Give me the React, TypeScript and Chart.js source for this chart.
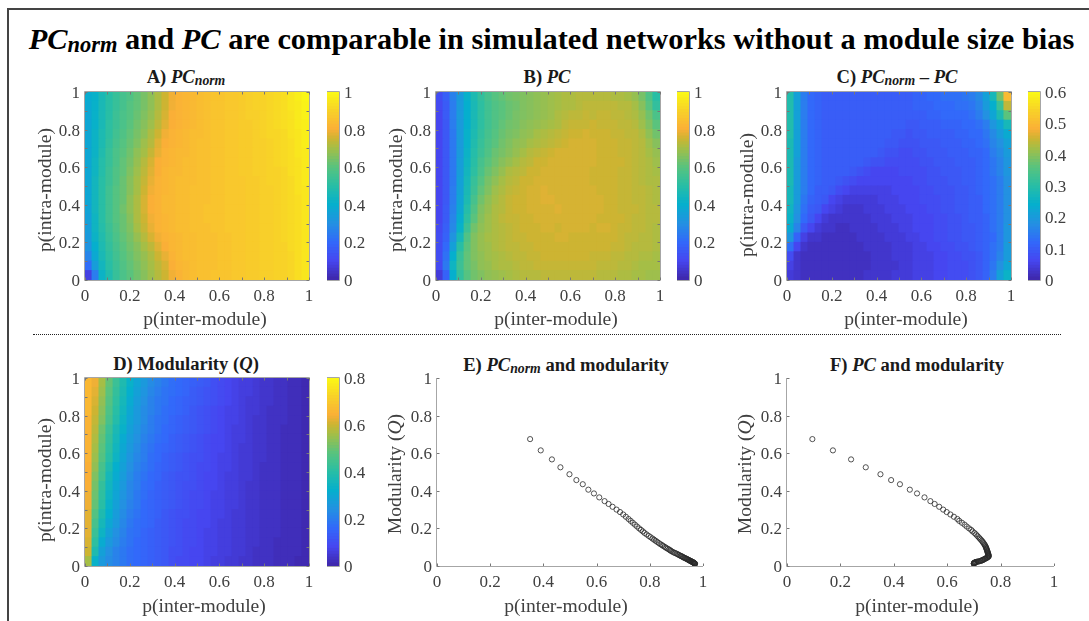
import React, { useEffect, useRef } from 'react';
import Chart from 'chart.js/auto';

// Bin centres of the coarse grid
const INTER_MODULE = [0.016,0.047,0.078,0.109,0.141,0.172,0.203,0.234,0.266,0.297,0.328,0.359,0.391,0.422,0.453,0.484,0.516,0.547,0.578,0.609,0.641,0.672,0.703,0.734,0.766,0.797,0.828,0.859,0.891,0.922,0.953,0.984];
const ROW_SPAN = 0.05;

const TICKS = [0, 0.2, 0.4, 0.6, 0.8, 1];
const MINOR_TICKS = [0, 0.1, 0.2, 0.3, 0.4, 0.5, 0.6, 0.7, 0.8, 0.9, 1];

// Values x100, rows from p(intra)=0.975 (top) to 0.025 (bottom)
const PC_NORM = [
[39,41,46,50,53,56,58,61,64,67,71,75,79,81,82,83,84,85,86,86,87,87,88,89,90,90,91,92,93,95,97,99],
[38,41,46,50,53,56,59,61,64,67,71,75,79,81,82,83,84,85,86,86,87,87,88,89,90,90,91,92,93,95,96,98],
[37,41,46,50,54,57,59,62,65,68,72,76,80,81,82,83,84,85,86,86,87,87,88,89,89,90,91,92,93,94,96,98],
[37,41,46,51,54,57,60,63,66,69,73,77,80,81,82,83,84,85,86,86,87,87,88,88,89,90,91,92,93,94,96,97],
[37,42,47,51,55,58,61,64,67,71,75,79,81,82,83,84,84,85,86,86,87,87,88,88,89,90,91,91,92,94,95,97],
[37,42,47,52,56,59,62,65,69,72,77,80,81,82,83,84,85,85,86,86,87,87,88,88,89,89,90,91,92,93,95,97],
[37,42,48,53,57,60,63,67,70,74,78,81,82,83,83,84,85,85,86,86,87,87,88,88,89,89,90,91,92,93,95,96],
[37,43,49,53,57,61,64,68,72,76,80,81,82,83,84,84,85,85,86,86,87,87,88,88,89,89,90,91,92,93,94,96],
[37,43,49,54,58,61,65,69,73,77,80,82,83,83,84,84,85,85,86,86,87,87,88,88,89,89,90,90,91,93,94,96],
[37,44,50,54,58,62,66,70,74,78,81,82,83,84,84,84,85,85,86,86,87,87,87,88,88,89,90,90,91,92,94,96],
[37,44,50,55,59,62,66,70,75,79,81,82,83,84,84,85,85,85,86,86,87,87,87,88,88,89,89,90,91,92,94,95],
[37,44,50,55,59,62,67,71,76,80,81,83,83,84,84,85,85,85,86,86,87,87,87,88,88,89,89,90,91,92,93,95],
[36,44,50,55,59,63,67,71,76,80,81,83,83,84,84,85,85,86,86,86,87,87,87,88,88,89,89,90,91,92,93,95],
[35,43,50,55,59,62,66,71,75,79,81,82,83,84,84,85,85,86,86,86,87,87,87,88,88,89,89,90,91,92,93,95],
[34,43,49,54,58,62,65,70,74,78,81,82,83,84,84,85,85,85,86,86,87,87,87,88,88,89,89,90,91,92,93,95],
[33,42,48,53,57,61,64,68,72,76,79,81,82,83,84,84,85,85,85,86,86,87,87,88,88,89,89,90,91,92,93,95],
[31,40,47,52,56,60,63,66,70,73,77,80,82,83,84,84,85,85,85,86,86,87,87,88,88,89,89,90,90,92,93,95],
[27,38,46,51,55,59,62,65,68,71,75,78,81,83,84,84,85,85,85,86,86,87,87,88,88,89,89,90,90,91,93,95],
[21,34,44,50,54,58,61,64,67,70,73,76,80,82,83,84,85,85,85,86,86,87,87,88,88,89,89,90,90,91,93,95],
[8,25,42,48,53,57,60,63,66,69,72,75,79,81,83,84,85,85,86,86,86,87,87,88,88,89,89,90,90,91,93,95],
];

const PC_RAW = [
[12,17,26,33,41,47,52,56,59,61,63,64,65,66,67,68,69,70,71,71,72,72,72,72,72,71,71,70,68,64,58,50],
[11,16,25,33,40,46,51,55,58,60,62,63,65,66,67,68,69,70,71,71,72,73,73,73,73,73,72,72,70,66,60,52],
[10,16,25,33,40,46,51,55,58,60,62,64,65,66,67,68,69,71,72,73,73,74,73,74,74,73,73,72,71,68,63,57],
[10,15,25,33,40,46,51,55,58,61,63,64,66,67,68,69,70,71,73,74,74,74,75,74,74,74,73,73,72,69,65,60],
[10,15,24,33,41,47,52,56,59,62,64,65,67,68,70,71,72,73,74,75,75,76,75,75,75,74,74,73,73,71,67,63],
[10,15,24,33,41,48,53,57,60,63,65,67,68,70,71,72,73,74,75,76,76,76,76,75,75,75,74,74,73,72,69,66],
[10,15,24,33,42,49,54,58,62,64,66,68,70,72,73,74,75,76,76,76,76,76,76,75,75,75,74,74,73,72,70,68],
[10,15,24,34,43,50,56,60,63,66,68,70,72,73,75,75,76,76,76,76,76,76,76,75,75,75,75,74,73,72,71,69],
[10,15,24,34,44,51,57,62,65,68,71,72,73,75,75,76,76,76,76,76,76,76,75,75,75,75,74,74,73,72,71,70],
[10,15,24,35,45,53,59,64,67,70,72,73,75,75,76,76,76,76,76,76,76,76,75,75,75,75,74,74,73,72,71,71],
[10,15,25,35,46,54,61,65,69,71,73,74,75,76,76,77,76,76,76,76,76,76,76,75,75,75,74,74,73,73,72,71],
[10,15,25,36,47,56,63,67,70,72,74,75,75,76,76,77,77,76,76,76,76,76,76,76,75,75,74,74,73,73,72,71],
[10,16,26,37,49,58,65,68,71,72,74,75,75,76,76,76,76,77,76,76,76,76,76,76,75,75,74,74,74,73,72,72],
[10,16,27,39,51,60,66,69,71,73,74,74,75,75,76,76,76,76,76,76,76,76,76,75,75,75,75,74,73,73,72,72],
[11,17,28,41,54,63,67,69,71,72,73,74,75,75,75,76,76,75,76,76,76,76,75,76,76,75,74,74,73,73,72,71],
[12,18,31,45,58,65,68,70,71,72,73,74,74,75,75,75,75,76,76,75,75,75,75,75,75,75,74,73,73,72,72,71],
[12,20,35,50,60,65,68,69,71,72,73,73,74,74,75,75,75,75,75,75,75,75,75,75,75,74,74,73,72,72,72,71],
[12,22,40,53,61,65,67,69,70,71,72,73,73,74,74,75,75,75,75,75,75,75,74,74,74,73,73,72,72,71,71,70],
[11,24,43,54,61,64,67,68,70,71,71,72,73,73,74,74,74,74,74,74,74,74,74,73,73,73,72,72,71,70,70,70],
[7,18,40,52,59,63,65,67,68,69,70,71,72,72,72,73,73,73,73,73,73,73,73,72,72,72,71,71,70,70,69,69],
];

const PC_DIFF = [
[29,21,15,12,11,10,10,10,10,10,10,10,10,10,10,10,10,10,11,11,12,12,13,13,13,14,15,17,21,27,38,50],
[29,21,15,12,11,10,10,10,10,10,10,10,10,10,10,10,10,10,11,11,11,12,12,12,13,13,14,16,20,24,32,44],
[29,21,15,12,11,10,10,10,10,10,10,10,10,10,10,10,10,10,10,10,11,11,12,12,12,12,13,15,18,22,28,36],
[29,21,15,12,11,10,10,10,10,10,10,10,10,10,10,10,10,9,9,10,10,10,11,11,11,12,12,13,15,19,22,27],
[29,21,15,12,11,10,10,10,10,10,10,10,10,10,10,9,9,8,9,9,10,10,10,10,11,11,12,12,14,17,20,23],
[28,21,15,12,11,10,10,10,10,10,10,10,10,10,9,9,8,8,8,9,9,9,10,10,10,11,11,12,13,16,18,21],
[28,21,15,12,11,10,10,10,10,10,10,10,10,9,8,8,7,7,8,8,9,9,9,10,10,10,11,11,12,15,17,20],
[28,20,15,12,11,10,10,10,10,10,10,9,8,8,7,7,7,7,7,8,8,9,9,9,10,10,10,11,12,14,16,19],
[28,20,15,12,11,10,10,10,10,9,8,7,6,6,6,6,7,7,7,7,8,8,9,9,9,10,10,11,12,14,16,19],
[28,20,15,12,11,10,10,9,8,7,6,6,6,6,6,6,6,6,7,7,8,8,8,9,9,10,10,11,12,13,15,18],
[27,20,15,12,10,10,9,7,6,5,5,5,5,5,5,6,6,6,6,7,7,8,8,8,9,9,10,11,12,13,15,18],
[27,20,14,11,10,9,6,5,4,4,4,4,4,5,5,5,6,6,6,7,7,7,8,8,9,9,10,10,12,13,15,18],
[26,19,13,10,9,6,5,4,3,3,3,4,4,4,5,5,5,6,6,6,7,7,8,8,9,9,10,10,12,13,15,18],
[25,18,12,9,6,4,3,3,3,3,3,3,4,4,4,5,5,5,6,6,6,7,7,8,8,9,10,10,11,13,15,18],
[23,16,9,6,4,3,3,2,2,3,3,3,3,4,4,4,5,5,6,6,6,7,7,8,8,9,9,10,11,13,15,19],
[19,11,5,3,3,2,2,2,2,2,3,3,3,3,4,4,4,5,5,6,6,7,7,8,8,9,9,10,11,12,15,19],
[13,6,3,2,2,2,2,2,2,2,2,3,3,3,3,4,4,4,5,5,6,6,7,7,8,8,9,10,11,13,15,20],
[7,3,2,2,2,2,2,2,2,2,2,2,3,3,3,4,4,4,5,5,5,6,6,7,7,8,8,9,11,13,16,20],
[5,3,2,2,2,2,2,2,2,2,2,2,3,3,3,3,4,4,5,5,5,6,6,7,7,7,8,9,11,14,18,22],
[4,3,2,2,2,2,2,2,2,2,2,3,3,3,3,4,4,4,5,5,5,6,6,7,7,7,8,9,11,15,21,25],
];

const MODULARITY = [
[66,63,56,49,43,38,33,29,26,23,21,19,17,16,15,14,13,12,10,9,8,7,6,6,5,4,4,3,3,2,2,1],
[66,62,55,48,42,37,32,28,25,22,20,18,17,16,15,13,12,11,10,9,8,7,6,6,5,4,4,3,3,2,2,1],
[66,61,54,47,41,36,31,27,24,21,19,18,16,15,14,13,12,11,10,9,8,7,6,5,5,4,4,3,3,2,2,1],
[66,60,53,46,40,35,30,26,23,21,19,17,16,15,14,12,11,10,9,8,7,7,6,5,5,4,3,3,3,2,2,1],
[65,59,52,45,39,34,29,26,23,20,18,17,15,14,13,12,11,10,9,8,7,7,6,5,4,4,3,3,3,2,2,1],
[65,58,50,43,37,33,28,25,22,20,18,16,15,14,13,12,11,10,9,8,7,6,6,5,4,4,3,3,2,2,2,1],
[65,57,49,42,36,31,27,24,21,19,17,16,14,13,12,11,10,9,8,8,7,6,6,5,4,4,3,3,2,2,2,1],
[65,56,48,41,35,30,26,23,20,18,16,15,14,13,12,11,10,9,8,8,7,6,5,5,4,4,3,3,2,2,2,1],
[65,55,47,40,34,29,25,22,20,17,16,14,13,12,11,10,10,9,8,7,7,6,5,5,4,4,3,3,2,2,2,1],
[64,54,45,38,32,28,24,21,19,17,15,14,13,12,11,10,9,9,8,7,7,6,5,5,4,3,3,3,2,2,2,1],
[64,52,44,36,31,27,23,20,18,16,15,13,12,11,11,10,9,8,8,7,6,6,5,5,4,3,3,3,2,2,2,1],
[64,51,42,35,30,26,22,20,17,16,14,13,12,11,10,10,9,8,8,7,6,6,5,4,4,3,3,3,2,2,2,1],
[63,50,41,34,29,25,22,19,17,15,14,13,12,11,10,9,9,8,7,7,6,6,5,4,4,3,3,3,2,2,2,1],
[63,49,40,33,28,24,21,19,16,15,14,13,12,11,10,9,9,8,7,7,6,6,5,4,4,3,3,3,2,2,2,1],
[62,47,38,32,27,23,20,18,16,15,14,12,11,10,10,9,8,8,7,7,6,5,5,4,4,3,3,3,2,2,2,1],
[62,45,36,30,26,22,19,17,16,15,13,12,11,10,9,9,8,8,7,6,6,5,5,4,4,3,3,3,2,2,2,1],
[62,43,34,28,24,21,18,17,15,14,13,12,11,10,9,9,8,7,7,6,6,5,5,4,4,3,3,3,2,2,2,1],
[61,41,31,26,23,20,18,16,15,14,13,12,11,10,9,9,8,7,7,6,6,5,5,4,4,3,3,2,2,2,2,1],
[60,38,28,24,21,19,17,16,15,14,13,12,10,10,9,8,8,7,7,6,6,5,5,4,3,3,3,2,2,2,2,1],
[56,33,26,23,21,19,17,16,15,14,13,12,10,9,9,8,8,7,6,6,5,5,4,4,3,3,3,2,2,2,1,1],
];

// Scatter panels: shared modularity, and the x reading for each panel
const Q_VALUES = [.675,.615,.567,.525,.488,.457,.435,.406,.386,.365,.345,.33,.315,.3,.287,.274,.262,.25,.24,.23,.22,.21,.2,.192,.184,.176,.168,.16,.153,.146,.14,.134,.128,.122,.116,.111,.106,.101,.096,.092,.088,.084,.08,.076,.072,.069,.066,.063,.06,.057,.054,.052,.05,.047,.045,.043,.041,.039,.037,.035,.033,.031,.03,.028,.027,.025,.024,.023,.022,.021,.02,.019,.018,.017,.016,.015,.014,.013,.012,.011];
const X_PC_NORM = [.35,.39,.432,.464,.498,.524,.548,.569,.59,.61,.63,.645,.66,.675,.688,.7,.71,.72,.728,.736,.744,.752,.76,.767,.774,.78,.788,.796,.803,.81,.816,.822,.828,.834,.84,.846,.851,.857,.862,.867,.872,.876,.88,.885,.89,.895,.9,.904,.908,.912,.916,.919,.922,.925,.928,.931,.934,.937,.94,.942,.945,.947,.949,.951,.953,.955,.957,.958,.96,.961,.962,.963,.964,.965,.966,.967,.968,.969,.97,.97];
const X_PC = [.095,.172,.24,.295,.35,.39,.423,.46,.487,.515,.537,.553,.57,.585,.598,.612,.625,.638,.645,.655,.665,.673,.682,.69,.695,.702,.708,.713,.718,.722,.726,.73,.733,.736,.739,.741,.743,.745,.746,.747,.748,.749,.75,.751,.752,.752,.753,.754,.754,.755,.755,.755,.755,.752,.75,.748,.745,.742,.74,.737,.735,.732,.73,.727,.724,.72,.716,.713,.71,.708,.706,.704,.703,.702,.701,.7,.7,.7,.7,.7];

// Colormap stops: position, r, g, b
const RAMP: number[][] = [
  [0, 62, 38, 168], [0.1, 70, 70, 240], [0.2, 50, 105, 250], [0.3, 35, 145, 225],
  [0.4, 5, 175, 205], [0.5, 40, 190, 165], [0.6, 90, 195, 125], [0.7, 165, 190, 70],
  [0.75, 205, 180, 50], [0.8, 250, 175, 55], [0.9, 248, 210, 40], [1, 250, 250, 20],
];
function rampColor(t: number) {
  const v = Math.max(0, Math.min(1, t));
  for (let i = 1; i < RAMP.length; i++) {
    if (v <= RAMP[i][0]) {
      const a = RAMP[i - 1], b = RAMP[i];
      const f = (v - a[0]) / (b[0] - a[0]);
      const c = [1, 2, 3].map((k) => Math.round(a[k] + (b[k] - a[k]) * f));
      return `rgb(${c[0]},${c[1]},${c[2]})`;
    }
  }
  return 'rgb(250,250,20)';
}

const SERIF = '"Liberation Serif", serif';
const TEXT = '#404040';
const AXIS = '#a6a6a6';
const TICK_FONT = { family: SERIF, size: 17 };

const framePlugin = {
  id: 'frame',
  afterDatasetsDraw(chart: any, _a: any, o: any) {
    const { ctx, chartArea: c, scales } = chart;
    ctx.save();
    ctx.strokeStyle = AXIS;
    ctx.lineWidth = 1;
    ctx.beginPath();
    if (o.box) ctx.rect(c.left - 0.5, c.top - 0.5, c.right - c.left + 1, c.bottom - c.top + 1);
    else {
      ctx.moveTo(c.left - 0.5, c.top);
      ctx.lineTo(c.left - 0.5, c.bottom + 0.5);
      ctx.lineTo(c.right, c.bottom + 0.5);
    }
    ctx.stroke();
    if (o.ticks) {
      ctx.strokeStyle = '#777';
      ctx.beginPath();
      for (const t of o.ticks) {
        const x = Math.round(scales.x.getPixelForValue(t)) + 0.5;
        const y = Math.round(scales.y.getPixelForValue(t)) + 0.5;
        ctx.moveTo(x, c.bottom); ctx.lineTo(x, c.bottom - 2.5);
        ctx.moveTo(c.left, y); ctx.lineTo(c.left + 2.5, y);
        if (o.box) {
          ctx.moveTo(x, c.top); ctx.lineTo(x, c.top + 2.5);
          ctx.moveTo(c.right, y); ctx.lineTo(c.right - 2.5, y);
        }
      }
      ctx.stroke();
    }
    ctx.restore();
  },
};

const PAD_TOP = 24, PAD_RIGHT = 16, Y_BAND = 40, X_BAND = 30, PLOT_H = 188;
const fmt = (v: any) => String(v);

function axes() {
  const common = { min: 0, max: 1, grid: { display: false, drawTicks: false }, border: { display: false } };
  return {
    x: {
      ...common, type: 'linear', stacked: true, offset: false,
      afterBuildTicks: (s: any) => { s.ticks = TICKS.map((value) => ({ value })); },
      ticks: { autoSkip: false, maxRotation: 0, padding: 6, color: TEXT, font: TICK_FONT, callback: fmt },
      afterFit: (s: any) => { s.height = X_BAND; },
    },
    y: {
      ...common, type: 'linear', stacked: true,
      afterBuildTicks: (s: any) => { s.ticks = TICKS.map((value) => ({ value })); },
      ticks: { autoSkip: false, padding: 5, labelOffset: 1.5, color: TEXT, font: TICK_FONT, callback: fmt },
      afterFit: (s: any) => { s.width = Y_BAND; },
    },
  };
}

function heatConfig(rows: number[][], maxValue: number) {
  const bottomUp = [...rows].reverse();
  return {
    type: 'bar',
    data: {
      datasets: bottomUp.map((row) => ({
        stack: 'grid',
        data: row.map((_v, i) => ({ x: INTER_MODULE[i], y: ROW_SPAN })),
        backgroundColor: row.map((v) => rampColor(v / 100 / maxValue)),
        borderWidth: 0,
        inflateAmount: 0.5,
        barPercentage: 1,
        categoryPercentage: 1,
      })),
    },
    options: {
      responsive: false, animation: false, devicePixelRatio: 1,
      layout: { padding: { top: PAD_TOP, right: PAD_RIGHT, left: 0, bottom: 0 } },
      scales: axes(),
      plugins: { legend: { display: false }, tooltip: { enabled: false }, frame: { box: true, ticks: MINOR_TICKS } },
    },
    plugins: [framePlugin],
  };
}

function scatterConfig(xs: number[]) {
  const a: any = axes();
  a.x.stacked = false; a.y.stacked = false;
  return {
    type: 'scatter',
    data: {
      datasets: [{
        data: Q_VALUES.map((q, i) => ({ x: xs[i], y: q })),
        pointRadius: 2.6, borderWidth: 0.8, borderColor: '#2a2a2a', backgroundColor: 'rgba(0,0,0,0)',
      }],
    },
    options: {
      responsive: false, animation: false, devicePixelRatio: 1,
      layout: { padding: { top: PAD_TOP, right: PAD_RIGHT, left: 0, bottom: 0 } },
      scales: a,
      plugins: { legend: { display: false }, tooltip: { enabled: false }, frame: { box: false, ticks: TICKS } },
    },
    plugins: [framePlugin],
  };
}

const BAR_STEPS = Array.from({ length: 64 }, (_, i) => i);

function colorbarConfig(maxValue: number, tickValues: number[]) {
  return {
    type: 'bar',
    data: {
      labels: ['scale'],
      datasets: BAR_STEPS.map((i) => ({
        data: [maxValue / BAR_STEPS.length],
        backgroundColor: rampColor((i + 0.5) / BAR_STEPS.length),
        borderWidth: 0, inflateAmount: 0.5, barPercentage: 1, categoryPercentage: 1,
      })),
    },
    options: {
      responsive: false, animation: false, devicePixelRatio: 1,
      layout: { padding: { top: PAD_TOP, bottom: PAD_TOP, left: 0, right: 0 } },
      scales: {
        x: { display: false, stacked: true },
        y: {
          position: 'right', stacked: true, min: 0, max: maxValue,
          grid: { display: false, drawTicks: false }, border: { display: false },
          afterBuildTicks: (s: any) => { s.ticks = tickValues.map((value) => ({ value })); },
          ticks: { autoSkip: false, padding: 5, labelOffset: 1.5, color: TEXT, font: TICK_FONT, callback: fmt },
          afterFit: (s: any) => { s.width = 36; },
        },
      },
      plugins: { legend: { display: false }, tooltip: { enabled: false }, frame: { box: true } },
    },
    plugins: [framePlugin],
  };
}

function Cv({ left, top, width, height, config }: any) {
  const ref = useRef<HTMLCanvasElement>(null);
  useEffect(() => {
    const chart = new Chart(ref.current as any, config());
    return () => chart.destroy();
  }, []);
  return <canvas ref={ref} width={width} height={height} style={{ position: 'absolute', left, top, width, height }} />;
}

function Panel({ left, top, w, config }: any) {
  return <Cv left={left - Y_BAND} top={top - PAD_TOP} width={w + Y_BAND + PAD_RIGHT} height={PLOT_H + PAD_TOP + X_BAND} config={config} />;
}

function Bar({ left, top, config }: any) {
  return <Cv left={left} top={top - PAD_TOP} width={12 + 36} height={PLOT_H + PAD_TOP * 2} config={config} />;
}

const subStyle: React.CSSProperties = { fontSize: '0.74em', verticalAlign: '-0.12em', lineHeight: 0 };
const Norm = () => <i>PC<span style={subStyle}>norm</span></i>;

function Head({ cx, cy, children }: any) {
  return (
    <div style={{ position: 'absolute', left: cx, top: cy, transform: 'translate(-50%,-50%)', whiteSpace: 'nowrap', font: `bold 18.6px ${SERIF}`, color: '#1a1a1a' }}>
      {children}
    </div>
  );
}

function AxisLabel({ cx, cy, vertical, children }: any) {
  return (
    <div style={{ position: 'absolute', left: cx, top: cy, transform: `translate(-50%,-50%)${vertical ? ' rotate(-90deg)' : ''}`, whiteSpace: 'nowrap', font: `19.6px ${SERIF}`, color: TEXT }}>
      {children}
    </div>
  );
}

const TICK_C = [0, 0.1, 0.2, 0.3, 0.4, 0.5, 0.6];
const TICK_D = [0, 0.2, 0.4, 0.6, 0.8];
const X_LABEL = 'p(inter-module)';
const Y_LABEL = 'p(intra-module)';

export default function App() {
  return (
    <div style={{ position: 'fixed', left: 0, top: 0, width: 1089, height: 621, background: '#fff', overflow: 'hidden' }}>
      <div style={{ position: 'absolute', left: 7, top: 8, width: 1082, height: 2, background: '#444' }} />
      <div style={{ position: 'absolute', left: 7, top: 8, width: 2, height: 613, background: '#444' }} />
      <div style={{ position: 'absolute', left: 28, top: 20, width: 1047, textAlign: 'center', whiteSpace: 'nowrap', font: `bold 30.4px ${SERIF}`, color: '#000', lineHeight: '38px' }}>
        <Norm /> and <i>PC</i> are comparable in simulated networks without a module size bias
      </div>
      <div style={{ position: 'absolute', left: 33, top: 334, width: 1028, borderTop: '1px dotted #222' }} />

      <Head cx={186} cy={77}>A) <Norm /></Head>
      <Head cx={547} cy={77}>B) <i>PC</i></Head>
      <Head cx={897} cy={77}>C) <Norm /> – <i>PC</i></Head>
      <Head cx={186} cy={364}>D) Modularity (<i>Q</i>)</Head>
      <Head cx={566} cy={365}>E) <Norm /> and modularity</Head>
      <Head cx={917} cy={365}>F) <i>PC</i> and modularity</Head>

      <Panel left={85} top={92} w={224} config={() => heatConfig(PC_NORM, 1)} />
      <Bar left={327} top={92} config={() => colorbarConfig(1, TICKS)} />
      <Panel left={436} top={92} w={224} config={() => heatConfig(PC_RAW, 1)} />
      <Bar left={677} top={92} config={() => colorbarConfig(1, TICKS)} />
      <Panel left={787} top={92} w={224} config={() => heatConfig(PC_DIFF, 0.6)} />
      <Bar left={1028} top={92} config={() => colorbarConfig(0.6, TICK_C)} />
      <Panel left={85} top={378} w={224} config={() => heatConfig(MODULARITY, 0.8)} />
      <Bar left={327} top={378} config={() => colorbarConfig(0.8, TICK_D)} />
      <Panel left={437} top={378} w={266} config={() => scatterConfig(X_PC_NORM)} />
      <Panel left={787} top={378} w={267} config={() => scatterConfig(X_PC)} />

      <AxisLabel cx={205} cy={319}>{X_LABEL}</AxisLabel>
      <AxisLabel cx={556} cy={319}>{X_LABEL}</AxisLabel>
      <AxisLabel cx={906} cy={319}>{X_LABEL}</AxisLabel>
      <AxisLabel cx={204} cy={606}>{X_LABEL}</AxisLabel>
      <AxisLabel cx={566} cy={606}>{X_LABEL}</AxisLabel>
      <AxisLabel cx={917} cy={606}>{X_LABEL}</AxisLabel>
      <AxisLabel vertical cx={45} cy={190}>{Y_LABEL}</AxisLabel>
      <AxisLabel vertical cx={396} cy={190}>{Y_LABEL}</AxisLabel>
      <AxisLabel vertical cx={747} cy={195}>{Y_LABEL}</AxisLabel>
      <AxisLabel vertical cx={45} cy={480}>{Y_LABEL}</AxisLabel>
      <AxisLabel vertical cx={395} cy={474}>Modularity (<i>Q</i>)</AxisLabel>
      <AxisLabel vertical cx={745} cy={474}>Modularity (<i>Q</i>)</AxisLabel>
    </div>
  );
}
